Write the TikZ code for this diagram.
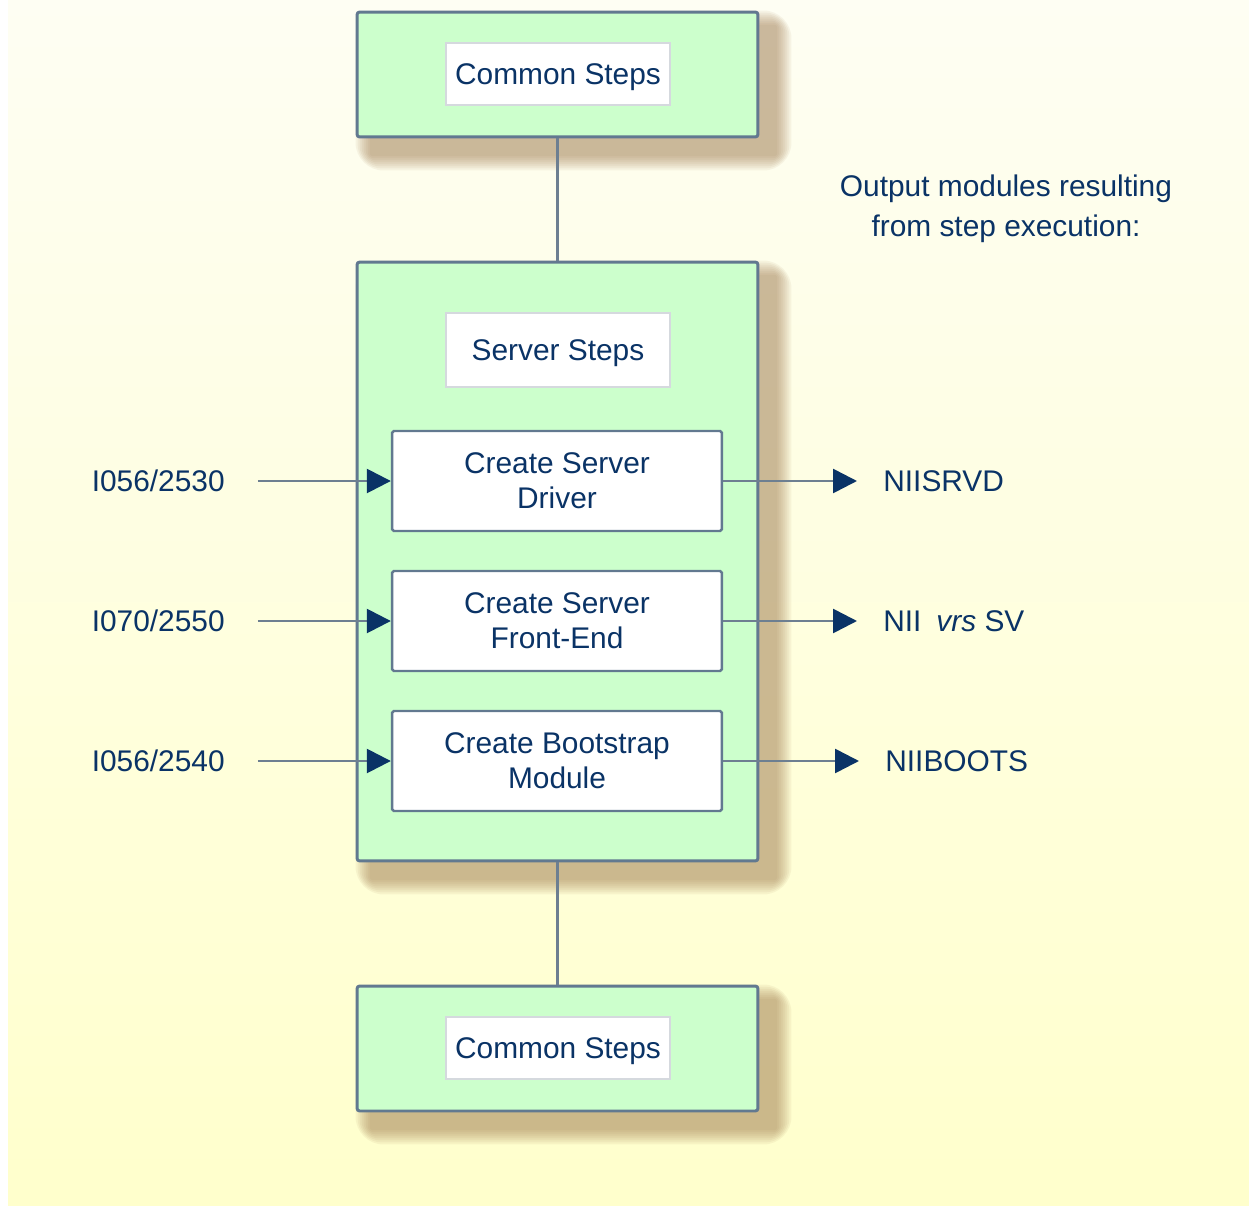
\documentclass[tikz,border=0pt]{standalone}
\usepackage{fontspec}
\setmainfont{Liberation Sans}
\usetikzlibrary{arrows.meta, positioning, calc}

\definecolor{stepgreen}{HTML}{CCFFCC}
\definecolor{edgeblue}{HTML}{627990}
\definecolor{navy}{HTML}{0A3366}
\definecolor{linegray}{HTML}{6D7F91}
\definecolor{labeledge}{HTML}{D5D9DE}
\definecolor{bgtop}{HTML}{FEFEF3}
\definecolor{bgbot}{HTML}{FFFFCC}
\definecolor{shadowbrown}{HTML}{9A7245}

\pgfdeclarelayer{bg}
\pgfsetlayers{bg,main}

\newcommand{\stepfont}{\fontsize{17}{19.9}\selectfont}

\tikzset{
  stepbox/.style={draw=edgeblue, line width=1.7pt, fill=stepgreen, rounded corners=1.5pt,
    minimum width=8.02cm, minimum height=2.5cm},
  steplabel/.style={draw=labeledge, line width=0.6pt, fill=white, text=navy, font=\stepfont,
    text height=12.2pt, text depth=0pt, minimum width=4.48cm, minimum height=1.24cm},
  taskbox/.style={draw=edgeblue, line width=1.4pt, fill=white, rounded corners=1pt, align=center,
    text=navy, font=\stepfont, minimum width=6.6cm, minimum height=2cm},
  modlabel/.style={inner sep=0pt, text=navy, font=\stepfont},
  flow/.style={draw=linegray, line width=1.5pt, -{Triangle[length=0.48cm, width=0.48cm, color=navy]}},
  link/.style={draw=linegray, line width=1.5pt}
}

\begin{document}
\begin{tikzpicture}[x=0.02cm, y=-0.02cm]
    \useasboundingbox (0,0) rectangle (1249,1207);

    % Step boxes
    \node[stepbox] (topsteps) at (557.5,74.5) {};
    \node[steplabel] (toplbl) at (558,74) {Common Steps};

    \node[stepbox, minimum height=11.98cm] (srvsteps) at (557.5,561.5) {};
    \node[steplabel, minimum height=1.48cm] (srvlbl) at (558,350) {Server Steps};

    \node[stepbox] (botsteps) at (557.5,1048.5) {};
    \node[steplabel] (botlbl) at (558,1048) {Common Steps};

    \draw[link] (topsteps.south) -- (srvsteps.north);
    \draw[link] (srvsteps.south) -- (botsteps.north);

    % Server steps
    \node[taskbox] (drv) at (557,481) {Create Server\\Driver};
    \node[taskbox] (fe) at (557,621) {Create Server\\Front-End};
    \node[taskbox] (boot) at (557,761) {Create Bootstrap\\Module};

    % Inputs
    \node[modlabel, anchor=east] (indrv) at (225,481) {I056/2530};
    \node[modlabel, anchor=east] (infe) at (225,621) {I070/2550};
    \node[modlabel, anchor=east] (inboot) at (225,761) {I056/2540};

    % Output modules
    \node[modlabel, anchor=west] (outdrv) at (883,481) {NIISRVD};
    \node[modlabel, anchor=west] (outfe) at (883,621) {NII\enspace\textit{vrs} SV};
    \node[modlabel, anchor=west] (outboot) at (885,761) {NIIBOOTS};
    \node[text=navy, font=\fontsize{17}{22.8}\selectfont, align=center] (note) at (1006,209)
        {Output modules resulting\\from step execution:};

    \foreach \t in {drv,fe,boot} {
        \draw[flow, shorten <=0.66cm] (in\t.east) -- (\t.west);
        \draw[flow, shorten >=0.52cm] (\t.east) -- (out\t.west);
    }

    % Background and soft shadows
    \begin{pgfonlayer}{bg}
        \fill[white] (0,0) rectangle (1249,1207);
        \shade[top color=bgtop, bottom color=bgbot] (8,0) rectangle (1249,1205);
        \foreach \b in {topsteps,srvsteps,botsteps}
            \foreach \r in {2,4,...,16}
                \fill[shadowbrown, opacity=0.08, rounded corners=\r pt]
                    ($(\b.north west)+(16-\r,16-\r)$) rectangle ($(\b.south east)+(16+\r,16+\r)$);
    \end{pgfonlayer}
\end{tikzpicture}
\end{document}
